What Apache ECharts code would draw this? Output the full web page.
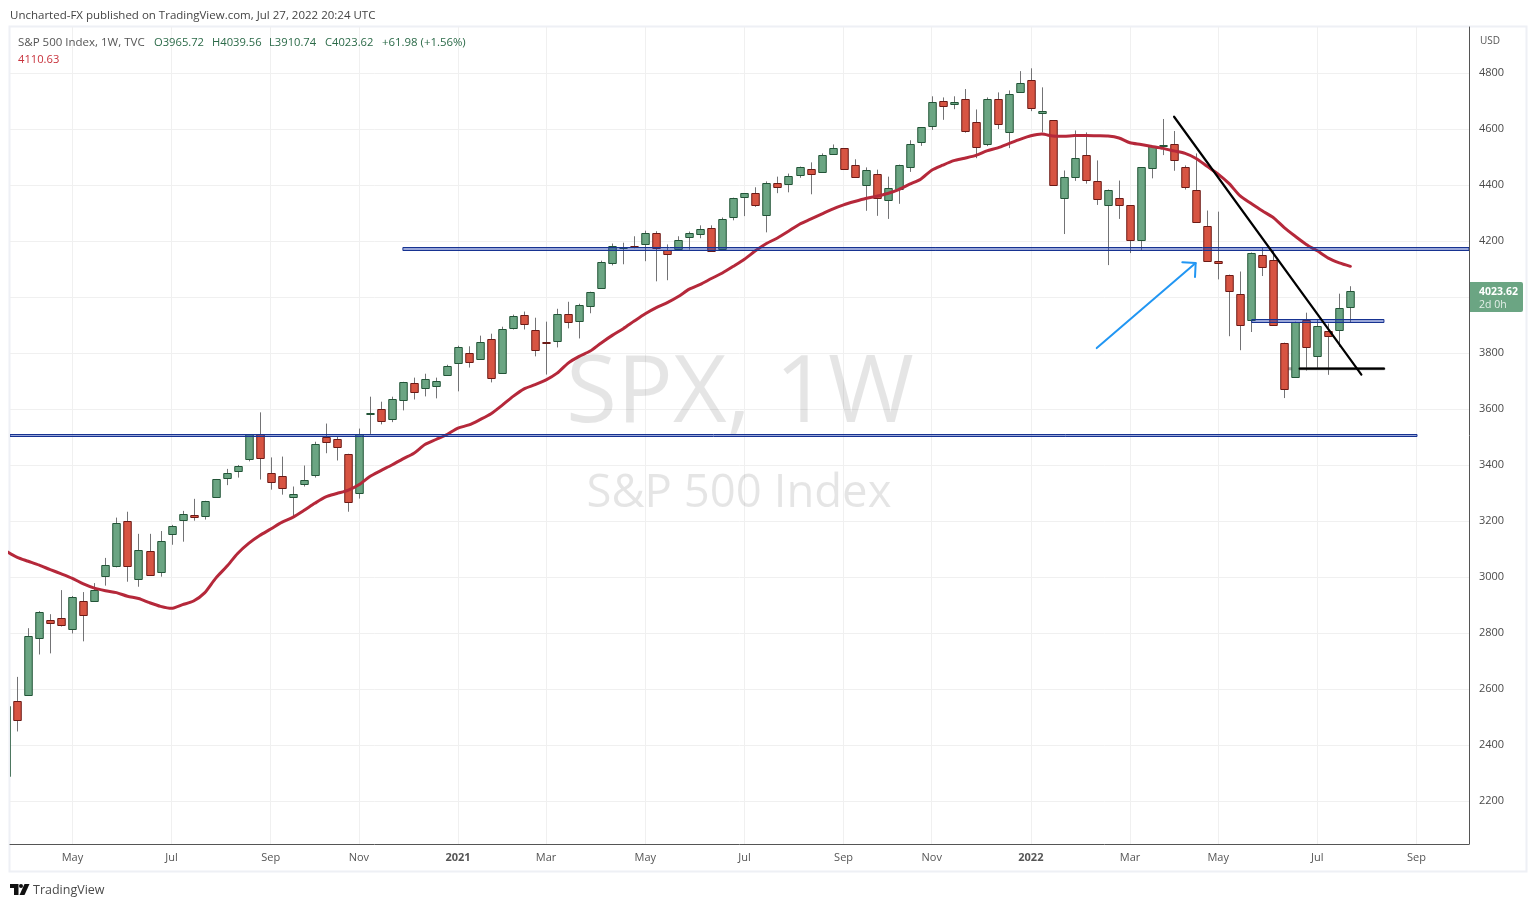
<!DOCTYPE html>
<html><head><meta charset="utf-8">
<style>html,body{margin:0;padding:0;background:#fff}#c{width:1537px;height:907px}</style>
<script src="https://cdn.jsdelivr.net/npm/echarts@6/dist/echarts.min.js"></script>
</head><body><div id="c"></div>
<script>
const firstWeek = -1;
const openValues = [2290,
2557,2579,2782,2847,2854,2815,2915,2915,3004,3040,
3201,2994,3094,3019,3155,3205,3223,3219,3287,3355,
3380,3419,3510,3373,3362,3287,3333,3366,3502,3494,
3441,3298,3584,3602,3566,3634,3695,3677,3684,3723,
3766,3802,3780,3852,3730,3891,3938,3884,3842,3845,
3941,3916,3970,4034,4124,4180,4183,4192,4228,4170,
4170,4216,4228,4249,4174,4285,4356,4371,4296,4410,
4406,4439,4460,4449,4514,4532,4474,4403,4442,4349,
4385,4464,4553,4610,4700,4689,4710,4628,4549,4710,
4589,4732,4778,4657,4632,4356,4431,4507,4414,4331,
4353,4328,4203,4464,4544,4546,4464,4385,4256,4131,
4081,4013,3920,4152,4135,3838,3716,3920,3791,3881,
3884,3965.72];
const closeValues = [2541,
2489,2790,2876,2836,2829,2929,2865,2954,3044,3194,
3040,3097,3008,3130,3183,3226,3215,3273,3351,3373,
3398,3510,3426,3341,3319,3298,3348,3477,3484,3466,
3269,3510,3585,3559,3637,3698,3662,3709,3702,3755,
3823,3770,3841,3713,3888,3934,3906,3813,3841,3941,
3913,3974,4020,4127,4185,4181,4181,4231,4173,4156,
4203,4231,4245,4166,4281,4353,4371,4328,4410,4396,
4435,4467,4442,4510,4535,4457,4431,4456,4356,4392,
4471,4546,4607,4696,4682,4696,4596,4539,4710,4621,
4725,4764,4678,4664,4399,4431,4499,4417,4349,4385,
4328,4203,4464,4542,4545,4489,4392,4270,4131,4124,
4024,3902,4160,4110,3902,3673,3913,3823,3898,3863,
3963,4023.62];
const highValues = [2637,
2644,2818,2879,2868,2954,2933,2947,2979,3069,3213,
3234,3155,3155,3165,3187,3237,3280,3273,3351,3387,
3401,3510,3589,3428,3431,3324,3399,3484,3549,3503,
3441,3531,3645,3627,3645,3698,3713,3727,3713,3759,
3827,3825,3863,3870,3895,3938,3949,3927,3913,3959,
3984,3977,4020,4131,4192,4195,4218,4238,4236,4189,
4218,4235,4257,4257,4285,4356,4371,4393,4414,4431,
4442,4467,4482,4514,4546,4532,4493,4464,4456,4431,
4474,4561,4607,4718,4714,4718,4744,4671,4714,4732,
4739,4808,4818,4750,4632,4453,4596,4589,4489,4385,
4417,4328,4464,4542,4637,4594,4471,4514,4310,4306,
4081,4092,4160,4179,4168,3838,3913,3945,3920,3906,
4013,4039.56];
const lowValues = [2191,
2449,2579,2724,2728,2824,2799,2771,2915,2970,3035,
2984,2966,3008,3002,3116,3127,3202,3206,3287,3329,
3356,3414,3349,3313,3295,3212,3324,3356,3443,3417,
3234,3281,3512,3546,3554,3596,3635,3646,3639,3723,
3664,3749,3780,3696,3730,3885,3885,3789,3724,3821,
3889,3853,3943,4034,4114,4118,4175,4129,4057,4061,
4170,4170,4211,4166,4174,4275,4290,4323,4232,4372,
4375,4427,4368,4449,4514,4457,4431,4309,4291,4280,
4334,4448,4541,4598,4634,4672,4588,4497,4540,4601,
4533,4732,4665,4589,4399,4226,4416,4406,4330,4115,
4280,4158,4166,4425,4508,4452,4385,4270,4127,4064,
3861,3811,3876,4076,3902,3640,3716,3738,3745,3723,
3823,3910.74];
const maValues = [3093,
3071,3057,3043,3027,3012,2996,2976,2961,2952,2945,
2932,2924,2909,2896,2889,2902,2915,2944,2996,3038,
3085,3121,3149,3172,3196,3214,3238,3264,3287,3299,
3310,3330,3360,3381,3401,3423,3443,3474,3492,3510,
3533,3544,3563,3584,3614,3646,3673,3688,3705,3729,
3765,3789,3808,3837,3864,3888,3915,3941,3963,3981,
4003,4029,4046,4067,4087,4111,4136,4166,4192,4212,
4236,4261,4279,4297,4315,4330,4342,4353,4361,4371,
4385,4404,4422,4454,4472,4488,4497,4507,4523,4534,
4549,4564,4577,4583,4576,4575,4578,4578,4577,4576,
4569,4552,4546,4539,4532,4523,4514,4496,4468,4440,
4406,4362,4335,4309,4285,4249,4218,4189,4166,4140,
4123,4110.63];
const monthTickIndex = [5,14,23,31,40,48,57,66,75,83,92,101,109,118,127];
const monthTickLabels = ['May','Jul','Sep','Nov','2021','Mar','May','Jul','Sep','Nov','2022','Mar','May','Jul','Sep'];
const priceTicks = [2200,2400,2600,2800,3000,3200,3400,3600,3800,4000,4200,4400,4600,4800];
// hand-drawn annotations, in [week, price]
const bandUpper = [35, 131.77, 4170, 4181];
const bandLower = [-0.66, 127.05, 3505, 3512.5];
const bandSmall = [112.05, 124.05, 3913, 3921];
const trendLine = [[105, 4645], [122, 3724]];
const supportShadow = [[115.4, 3745], [124.05, 3745]];
const supportLine = [[116.4, 3745], [124.05, 3745]];
const arrowShaft = [[97.98, 3818.5], [106.96, 4122.6]];
const arrowHead = [[105.75, 4125], [106.96, 4122.6], [106.9, 4072.5]];

const weeks = openValues.map((_, i) => i + firstWeek);
const candleRows = weeks.map((w, i) => [w, openValues[i], closeValues[i], lowValues[i], highValues[i]]);
const maRows = weeks.map((w, i) => [w, maValues[i]]);
const tickLookup = Object.fromEntries(monthTickIndex.map((v, i) => [v, monthTickLabels[i]]));

const GREEN='#6ba583', GREEN_B='#225437', RED='#d75442', RED_B='#6b1a16', WICK='#737375';
const GRID='#f0f0f0';
const FONT='"Open Sans","Noto Sans",sans-serif';

function renderCandle(params, api){
  const x=api.value(0), o=api.value(1), c=api.value(2), l=api.value(3), h=api.value(4);
  const up=c>=o;
  const px=Math.round(api.coord([x,o])[0])+0.5;
  const yo=api.coord([x,o])[1], yc=api.coord([x,c])[1], yl=api.coord([x,l])[1], yh=api.coord([x,h])[1];
  const top=Math.min(yo,yc), bot=Math.max(yo,yc), hw=3.75;
  const cs=params.coordSys;
  return {type:'group', clipPath:{type:'rect',shape:{x:cs.x,y:cs.y,width:cs.width,height:cs.height}}, children:[
    {type:'line',shape:{x1:px,y1:yh,x2:px,y2:yl},style:{stroke:WICK,lineWidth:1}},
    {type:'rect',shape:{x:px-hw,y:Math.round(top)+0.5,width:hw*2,height:Math.max(1,Math.round(bot-top))},
     style:{fill:up?GREEN:RED,stroke:up?GREEN_B:RED_B,lineWidth:1}}
  ]};
}
function renderBand(params, api){
  const a=api.coord([api.value(0),api.value(3)]), b=api.coord([api.value(1),api.value(2)]);
  const top=Math.round(a[1])+0.5, bot=Math.round(b[1])+0.5;
  return {type:'rect',shape:{x:a[0],y:top,width:b[0]-a[0],height:bot-top},
    style:{fill:'rgba(30,60,170,0.45)',stroke:'#173391',lineWidth:1}};
}
const line=(data,color,width,extra)=>Object.assign({type:'line',data,symbol:'none',silent:true,
  lineStyle:{color,width,cap:'round'},z:6},extra||{});

function txt(x,y,text,size,fill,extra){
  return {type:'text',x,y,silent:true,z:30,style:Object.assign({text,fontSize:size,fill,fontFamily:FONT,textVerticalAlign:'middle'},extra||{})};
}
const chart=echarts.init(document.getElementById('c'),null,{renderer:'canvas'});
chart.setOption({
  animation:false,backgroundColor:'#fff',
  grid:{left:10,right:68,top:27,bottom:63,containLabel:false},
  xAxis:{type:'value',min:-0.663,max:131.77,
    axisLine:{show:true,onZero:false,lineStyle:{color:'#555',width:1}},axisTick:{show:false,customValues:monthTickIndex},
    axisLabel:{customValues:monthTickIndex,margin:8,fontSize:11,color:'#555',fontFamily:FONT,
      formatter:v=>{const t=tickLookup[v];return /^20/.test(t)?'{b|'+t+'}':t;},
      rich:{b:{fontWeight:'bold',fontSize:11,color:'#555',fontFamily:FONT}}},
    splitLine:{show:true,lineStyle:{color:GRID,width:1}}},
  yAxis:{type:'value',position:'right',min:2047,max:4965.6,
    axisLine:{show:true,onZero:false,lineStyle:{color:'#555',width:1}},axisTick:{show:false,customValues:priceTicks},
    axisLabel:{customValues:priceTicks,margin:10,fontSize:11,color:'#4a4a4a',fontFamily:FONT,padding:[4,0,0,0],
      formatter:v=>String(v)},
    splitLine:{show:true,lineStyle:{color:GRID,width:1}}},
  series:[
    line(supportShadow,'#a8a8a8',3,{z:2}),
    {type:'custom',name:'S&P 500 Index',renderItem:renderCandle,data:candleRows,encode:{x:0,y:[1,2,3,4]},z:3,silent:true,clip:true},
    line(maRows,'#b5283a',3,{smooth:0.25,z:4}),
    {type:'custom',renderItem:renderBand,data:[bandUpper,bandLower,bandSmall],encode:{x:[0,1],y:[2,3]},z:5,silent:true,clip:true},
    line(supportLine,'#000',2.2),
    line(trendLine,'#000',2.2),
    line(arrowShaft,'#2196f3',2),
    line(arrowHead,'#2196f3',2)
  ],
  graphic:{elements:[
    {type:'rect',silent:true,z:-1,shape:{x:9.5,y:26.5,width:1517,height:845},style:{fill:'none',stroke:'#eef0f5',lineWidth:2}},
    txt(740,395,'SPX, 1W',93,'rgba(0,0,0,0.1)',{textAlign:'center'}),
    txt(739,494,'S&P 500 Index',45.5,'rgba(0,0,0,0.1)',{textAlign:'center'}),
    txt(10,16,'Uncharted-FX published on TradingView.com, Jul 27, 2022 20:24 UTC',11.5,'#444'),
    txt(18,43,'S&P 500 Index, 1W, TVC',11.5,'#555'),
    txt(154,43,'O3965.72',11.2,'#2b6a48'),
    txt(212,43,'H4039.56',11.2,'#2b6a48'),
    txt(269,43,'L3910.74',11.2,'#2b6a48'),
    txt(325,43,'C4023.62',11.2,'#2b6a48'),
    txt(382,43,'+61.98 (+1.56%)',11.4,'#2b6a48'),
    txt(18,60,'4110.63',11.2,'#c8323c'),
    txt(1480,41,'USD',10,'#555'),
    {type:'rect',silent:true,z:29,shape:{x:1470,y:282,width:53,height:30,r:[0,2,2,0]},style:{fill:GREEN}},
    txt(1479,292,'4023.62',10.5,'#fff',{fontWeight:'bold'}),
    txt(1479,305,'2d 0h',10.5,'#e4f0e9'),
    {type:'polygon',silent:true,z:30,shape:{points:[[10,884],[18.5,884],[18.5,895],[14,895],[14,888],[10,888]]},style:{fill:'#111'}},
    {type:'circle',silent:true,z:30,shape:{cx:21,cy:886,r:2},style:{fill:'#111'}},
    {type:'polygon',silent:true,z:30,shape:{points:[[24.5,884],[29.5,884],[24.5,895],[19.5,895]]},style:{fill:'#111'}},
    txt(33,890,'TradingView',12.5,'#4a4a4a')
  ]}
});
</script></body></html>
